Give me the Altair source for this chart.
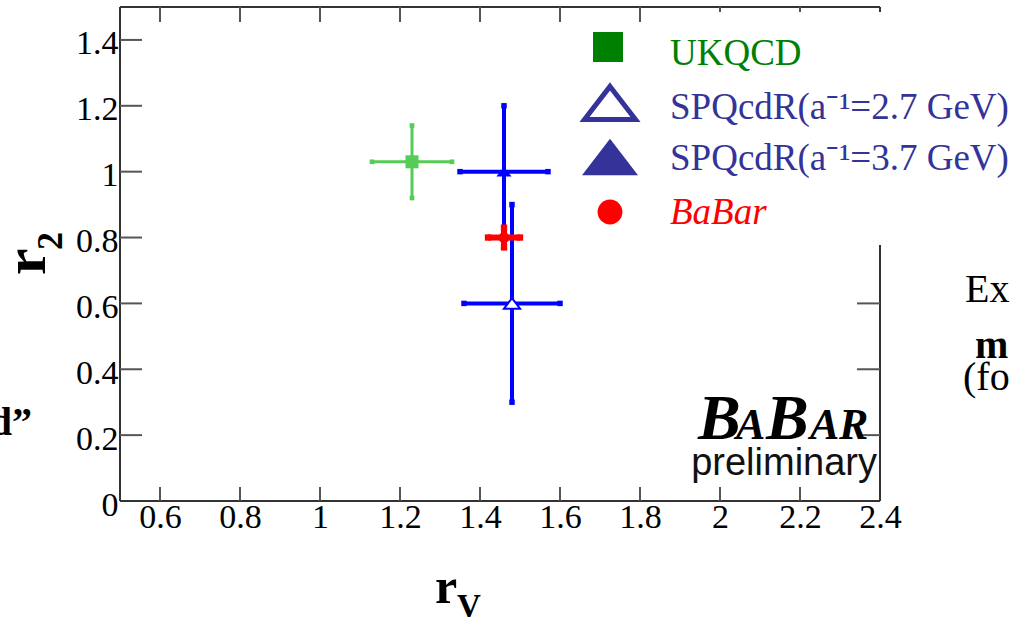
import altair as alt
import pandas as pd

# ---- measured values -------------------------------------------------------
series = ["UKQCD", "SPQcdR(a⁻¹=2.7 GeV)", "SPQcdR(a⁻¹=3.7 GeV)", "BaBar"]
r_v = [1.23, 1.48, 1.46, 1.46]
r_v_err = [0.10, 0.12, 0.11, 0.04]
r_2 = [1.03, 0.60, 1.00, 0.80]
r_2_err = [0.11, 0.30, 0.20, 0.03]

x_tick_values = [0.6, 0.8, 1.0, 1.2, 1.4, 1.6, 1.8, 2.0, 2.2, 2.4]
y_tick_values = [0.0, 0.2, 0.4, 0.6, 0.8, 1.0, 1.2, 1.4]

# ---- styling ---------------------------------------------------------------
W, H = 760, 494
SERIF = "Liberation Serif"
SANS = "Liberation Sans"
TRI = "M0,-0.65L1,0.65L-1,0.65Z"

bar_colors = ["#55cc55", "#0000ff", "#0000ff", "#ff0000"]
bar_widths = [3, 4, 4, 6]
cap_sizes = [22, 30, 30, 40]
legend_colors = ["#008000", "#333399", "#333399", "#ff0000"]

xs = alt.Scale(domain=[0.5, 2.4], nice=False, zero=False)
ys = alt.Scale(domain=[0.0, 1.5], nice=False, zero=False)

x_axis = alt.Axis(values=x_tick_values, format="~g", labelFont=SERIF, labelFontSize=34,
                  labelColor="black", ticks=False, domain=False, grid=False, title=None,
                  labelPadding=-1, labelFlush=False, labelOverlap=False)
y_axis = alt.Axis(values=y_tick_values, format="~g", labelFont=SERIF, labelFontSize=34,
                  labelColor="black", ticks=False, domain=False, grid=False, title=None,
                  labelPadding=2, labelOffset=4, labelFlush=False, labelOverlap=False)

points = pd.DataFrame({"idx": range(len(series)), "series": series,
                       "rv": r_v, "rv_err": r_v_err, "r2": r_2, "r2_err": r_2_err})
points["rv_lo"] = points.rv - points.rv_err
points["rv_hi"] = points.rv + points.rv_err
points["r2_lo"] = points.r2 - points.r2_err
points["r2_hi"] = points.r2 + points.r2_err

# end caps of each error bar
cap_rows = []
for i in range(len(series)):
    cap_rows += [
        {"idx": i, "cx": r_v[i] - r_v_err[i], "cy": r_2[i]},
        {"idx": i, "cx": r_v[i] + r_v_err[i], "cy": r_2[i]},
        {"idx": i, "cx": r_v[i], "cy": r_2[i] - r_2_err[i]},
        {"idx": i, "cx": r_v[i], "cy": r_2[i] + r_2_err[i]},
    ]
caps = pd.DataFrame(cap_rows)

one = pd.DataFrame({"k": [0]})
xticks_df = pd.DataFrame({"t": x_tick_values[:-1]})
yticks_df = pd.DataFrame({"t": y_tick_values[1:]})


def X(field):
    return alt.X(field, type="quantitative", scale=xs, axis=x_axis)


def Y(field):
    return alt.Y(field, type="quantitative", scale=ys, axis=y_axis)


layers = []

# frame
FRAME = "#333333"
layers.append(alt.Chart(one).mark_rule(color=FRAME, strokeWidth=2).encode(
    x=alt.value(0), x2=alt.value(W), y=alt.value(0)))
layers.append(alt.Chart(one).mark_rule(color=FRAME, strokeWidth=2).encode(
    x=alt.value(0), x2=alt.value(W), y=alt.value(H)))
layers.append(alt.Chart(one).mark_rule(color=FRAME, strokeWidth=2).encode(
    x=alt.value(0), y=alt.value(0), y2=alt.value(H)))
layers.append(alt.Chart(one).mark_rule(color=FRAME, strokeWidth=2).encode(
    x=alt.value(W), y=alt.value(0), y2=alt.value(H)))

# inward ticks on all four sides
TICK = "#555555"
layers.append(alt.Chart(xticks_df).mark_rule(color=TICK, strokeWidth=2).encode(
    x=X("t"), y=alt.value(H), y2=alt.value(H - 14)))
layers.append(alt.Chart(xticks_df).mark_rule(color=TICK, strokeWidth=2).encode(
    x=X("t"), y=alt.value(0), y2=alt.value(15)))
layers.append(alt.Chart(yticks_df).mark_rule(color=TICK, strokeWidth=2).encode(
    y=Y("t"), x=alt.value(0), x2=alt.value(22)))
layers.append(alt.Chart(yticks_df).mark_rule(color=TICK, strokeWidth=2).encode(
    y=Y("t"), x=alt.value(W), x2=alt.value(W - 23)))

# data: error bars, caps and markers, one series at a time
for i in range(len(series)):
    c, w = bar_colors[i], bar_widths[i]
    sel = alt.datum.idx == i
    layers.append(alt.Chart(points).transform_filter(sel).mark_rule(
        color=c, strokeWidth=w).encode(x=X("rv_lo"), x2="rv_hi:Q", y=Y("r2")))
    layers.append(alt.Chart(points).transform_filter(sel).mark_rule(
        color=c, strokeWidth=w).encode(x=X("rv"), y=Y("r2_lo"), y2="r2_hi:Q"))
    layers.append(alt.Chart(caps).transform_filter(sel).mark_square(
        color=c, size=cap_sizes[i], opacity=1).encode(x=X("cx"), y=Y("cy")))

    base = alt.Chart(points).transform_filter(sel)
    if i == 0:
        m = base.mark_square(color=c, size=170, opacity=1)
    elif i == 1:
        m = base.mark_point(shape=TRI, size=260, filled=True, fill="white",
                            stroke=c, strokeWidth=2, opacity=1)
    elif i == 2:
        m = base.mark_point(shape=TRI, size=230, filled=True, color=c, opacity=1)
    else:
        m = base.mark_circle(color=c, size=120, opacity=1)
    layers.append(m.encode(x=X("rv"), y=Y("r2")))

# legend panel
layers.append(alt.Chart(one).mark_rect(fill="white").encode(
    x=alt.value(528), x2=alt.value(900), y=alt.value(5), y2=alt.value(238)))

legend_y = [40, 96, 150, 205]
legend_base = [58, 112, 163, 217]
layers.append(alt.Chart(one).mark_square(color=legend_colors[0], size=900, opacity=1).encode(
    x=alt.value(488), y=alt.value(legend_y[0])))
layers.append(alt.Chart(one).mark_point(shape=TRI, size=2600, filled=True, fill="white",
                                        stroke=legend_colors[1], strokeWidth=5, opacity=1).encode(
    x=alt.value(490), y=alt.value(legend_y[1])))
layers.append(alt.Chart(one).mark_point(shape=TRI, size=3136, filled=True,
                                        color=legend_colors[2], opacity=1).encode(
    x=alt.value(490), y=alt.value(legend_y[2])))
layers.append(alt.Chart(one).mark_circle(color=legend_colors[3], size=615, opacity=1).encode(
    x=alt.value(490), y=alt.value(legend_y[3])))
for i, name in enumerate(series):
    layers.append(alt.Chart(one).mark_text(
        text=name, align="left", baseline="alphabetic", font=SERIF, fontSize=37,
        fontStyle="italic" if i == 3 else "normal", color=legend_colors[i]).encode(
        x=alt.value(550), y=alt.value(legend_base[i])))


def label(text, x, y, size, font=SERIF, weight="normal", style="normal",
          align="left", angle=0, color="black"):
    return alt.Chart(one).mark_text(
        text=text, align=align, baseline="alphabetic", font=font, fontSize=size,
        fontWeight=weight, fontStyle=style, angle=angle, color=color).encode(
        x=alt.value(x), y=alt.value(y))


# experiment logo (small-caps lettering)
layers.append(label("B", 578, 432, 64, weight="bold", style="italic"))
layers.append(label("A", 616, 432, 44, weight="bold", style="italic"))
layers.append(label("B", 646, 432, 64, weight="bold", style="italic"))
layers.append(label("A", 690, 432, 44, weight="bold", style="italic"))
layers.append(label("R", 719, 432, 44, weight="bold", style="italic"))
layers.append(label("preliminary", 757, 468, 38, font=SANS, align="right", color="#111111"))

# axis titles
layers.append(label("r", -75, 268, 60, weight="bold", angle=270))
layers.append(label("2", -58, 243, 36, weight="bold", angle=270))
layers.append(label("r", 315, 596, 50, weight="bold"))
layers.append(label("V", 337, 610, 33, weight="bold"))

# surrounding slide text
layers.append(label("Ex", 845, 295, 40))
layers.append(label("m", 855, 351, 40, weight="bold"))
layers.append(label("(fo", 843, 383, 40))
layers.append(label("d”", -88, 428, 40, weight="bold", align="right"))

chart = alt.layer(*layers).properties(
    width=W, height=H,
    padding={"left": 120, "top": 7, "right": 130, "bottom": 116},
    autosize=alt.AutoSizeParams(type="none"),
    background="white",
).configure_view(strokeWidth=0)

chart.save("out.html", embed_options={"renderer": "svg", "actions": False})
